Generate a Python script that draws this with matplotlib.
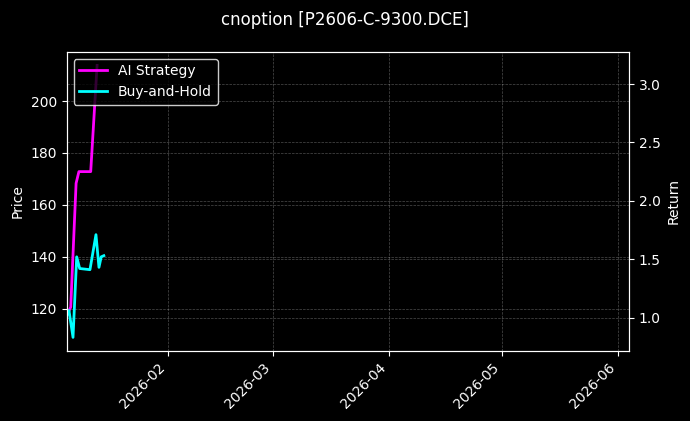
import numpy as np
import pandas as pd
import matplotlib
matplotlib.use("Agg")
import matplotlib.pyplot as plt
import matplotlib.dates as mdates

# 数据
start_day = "2026-01-05"
end_day = "2026-06-04"

# 买入持有收益，天数偏移量
bh_days = [0.16, 0.6, 1.68, 2.66, 3.46, 6.2, 7.8, 8.6, 9.2, 9.9]
bh_return = [1.03, 1.06, 0.83, 1.52, 1.42, 1.41, 1.71, 1.43, 1.52, 1.53]

# AI策略收益
ai_days = [0.16, 1.07, 2.5, 3.25, 6.4, 8.1]
ai_return = [1.03, 1.09, 2.15, 2.25, 2.25, 3.16]

price_limits = [103.7, 219.0]

t0 = pd.Timestamp(start_day)
bh_dates = t0 + pd.to_timedelta(bh_days, unit="D")
ai_dates = t0 + pd.to_timedelta(ai_days, unit="D")

plt.style.use("dark_background")
fig = plt.figure(figsize=(6.9, 4.21), dpi=100)
ax1 = fig.add_axes([0.0967, 0.1663, 0.8149, 0.7107])
ax2 = ax1.twinx()

ax1.set_ylim(price_limits)
ax1.set_ylabel("Price")
ax1.grid(True, linestyle="--", linewidth=0.5, alpha=0.3)

ax2.plot(ai_dates, ai_return, color="#ff00ff", linewidth=2, label="AI Strategy")
ax2.plot(bh_dates, bh_return, color="#00ffff", linewidth=2, label="Buy-and-Hold")
ax2.set_ylabel("Return")
ax2.grid(True, axis="y", linestyle="--", linewidth=0.5, alpha=0.3)

ax1.set_xlim(t0, pd.Timestamp(end_day))
ax1.xaxis.set_major_locator(mdates.MonthLocator())
ax1.xaxis.set_major_formatter(mdates.DateFormatter("%Y-%m"))
plt.setp(ax1.get_xticklabels(), rotation=45, ha="right")

ax2.legend(loc="upper left", facecolor="black", edgecolor="white", framealpha=0.8)
fig.suptitle("cnoption [P2606-C-9300.DCE]", fontsize=12, y=0.975)

fig.savefig("out.png", dpi=100)
